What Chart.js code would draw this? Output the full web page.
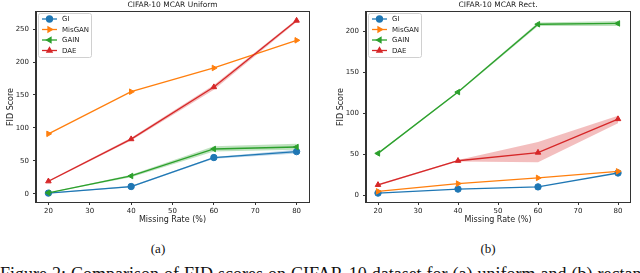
<!DOCTYPE html>
<html>
<head>
<meta charset="utf-8">
<script src="https://cdn.jsdelivr.net/npm/chart.js@4.4.1/dist/chart.umd.min.js"></script>
<style>
  html, body { margin: 0; padding: 0; background: #fff; }
  body { width: 640px; height: 273px; position: relative; overflow: hidden; }
  canvas { position: absolute; top: 0; }
  #c1 { left: 0; }
  #c2 { left: 320px; }
  .sub { position: absolute; top: 241px; width: 40px; line-height: 15px; text-align: center;
         font-family: 'Liberation Serif', serif; font-size: 13px; color: #111; }
  #fig { position: absolute; left: 0; top: 264px; width: 640px; line-height: 20px; white-space: nowrap;
         font-family: 'Liberation Serif', serif; font-size: 18px; word-spacing: 0.5px; color: #111; }
</style>
</head>
<body>
<canvas id="c1" width="320" height="230"></canvas>
<canvas id="c2" width="320" height="230"></canvas>
<div class="sub" style="left:138px">(a)</div>
<div class="sub" style="left:468px">(b)</div>
<div id="fig">Figure 2: Comparison of FID scores on CIFAR-10 dataset for (a) uniform and (b) rectangular</div>
<script>
// datos
const missingRates = [20, 40, 60, 80];
const xTicks = [20, 30, 40, 50, 60, 70, 80];
const uniformYTicks = [0, 50, 100, 150, 200, 250];
const rectYTicks = [0, 50, 100, 150, 200];
const methods = ['GI', 'MisGAN', 'GAIN', 'DAE'];

// MCAR uniform
const giUniform = [1, 11, 55, 64];
const misganUniform = [91, 155, 191, 233];
const gainUniform = [1.5, 27, 68, 71];
const daeUniform = [19, 83, 162, 263];
const giUniformLow = [0.5, 10, 53, 61];
const giUniformHigh = [1.5, 12, 56, 67];
const gainUniformLow = [1, 25, 64, 67];
const gainUniformHigh = [2, 29, 72, 76];
const daeUniformLow = [18, 81, 158, 261];
const daeUniformHigh = [20, 85, 165, 265];

// MCAR rect
const giRect = [2.4, 7.3, 10, 27];
const misganRect = [4.5, 14, 21, 29];
const gainRect = [51, 126, 209, 210];
const daeRect = [12.5, 42, 52, 93];
const gainRectLow = [50, 125, 207, 207];
const gainRectHigh = [52, 127, 211, 213];
const daeRectLow = [11.5, 41, 40, 88];
const daeRectHigh = [13.5, 43, 65, 97];

const colors = ['#1f77b4', '#ff7f0e', '#2ca02c', '#d62728'];
const bandColors = ['rgba(31,119,180,0.3)', 'rgba(255,127,14,0.3)', 'rgba(44,160,44,0.3)', 'rgba(214,39,40,0.3)'];
const markers = [['circle', 0], ['triangle', 90], ['triangle', -90], ['triangle', 0]];

function pts(vals) {
    return missingRates.map((x, i) => ({x: x, y: vals[i]}));
}

function lineSet(k, vals) {
    return {
        label: methods[k], data: pts(vals), borderColor: colors[k], backgroundColor: colors[k],
        borderWidth: 1.3, pointStyle: markers[k][0], rotation: markers[k][1],
        pointRadius: 3.2, pointBorderWidth: 1, fill: false, tension: 0, order: 4 - k
    };
}

function bandSets(k, low, high) {
    return [
        {label: '', data: pts(low), borderWidth: 0, pointRadius: 0, fill: false, order: 10},
        {label: '', data: pts(high), borderWidth: 0, pointRadius: 0, backgroundColor: bandColors[k], fill: '-1', order: 10}
    ];
}

const frame = {
    id: 'frame',
    afterDatasetsDraw(chart) {
        const {ctx, chartArea: a} = chart;
        ctx.save();
        ctx.strokeStyle = '#333';
        ctx.lineWidth = 1;
        ctx.strokeRect(Math.round(a.left) - 0.5, Math.round(a.top) - 0.5, Math.round(a.right - a.left) + 1, Math.round(a.bottom - a.top) + 1);
        ctx.restore();
    }
};

const topTitle = {
    id: 'topTitle',
    afterDraw(chart, args, opts) {
        const {ctx, chartArea: a} = chart;
        ctx.save();
        ctx.font = '7.5px "DejaVu Sans"';
        ctx.fillStyle = '#222';
        ctx.textAlign = 'center';
        ctx.textBaseline = 'alphabetic';
        ctx.fillText(opts.text, (a.left + a.right) / 2, 7);
        ctx.restore();
    }
};

const boxLegend = {
    id: 'boxLegend',
    afterDraw(chart) {
        const {ctx, chartArea: a} = chart;
        const x0 = a.left + 2, y0 = a.top + 1;
        ctx.save();
        ctx.fillStyle = 'rgba(255,255,255,0.85)';
        ctx.strokeStyle = '#d0d0d0';
        ctx.lineWidth = 1;
        ctx.beginPath();
        ctx.roundRect(x0 + 0.5, y0 + 0.5, 53, 44, 2);
        ctx.fill();
        ctx.stroke();
        ctx.font = '7px "DejaVu Sans"';
        ctx.textBaseline = 'middle';
        ctx.textAlign = 'left';
        chart.data.datasets.slice(0, 4).forEach((ds, i) => {
            const y = y0 + 6 + i * 10.5;
            ctx.strokeStyle = ds.borderColor;
            ctx.fillStyle = ds.borderColor;
            ctx.lineWidth = 1.3;
            ctx.beginPath();
            ctx.moveTo(x0 + 4, y);
            ctx.lineTo(x0 + 19, y);
            ctx.stroke();
            Chart.helpers.drawPoint(ctx, {pointStyle: ds.pointStyle, rotation: ds.rotation, radius: 3, borderWidth: 1}, x0 + 11.5, y);
            ctx.fillStyle = '#222';
            ctx.fillText(ds.label, x0 + 24, y + 0.5);
        });
        ctx.restore();
    }
};

function makeChart(id, title, lines, bands, yMin, yMax, yTicks, yWidth, titlePad, rightPad) {
    const font = {family: 'DejaVu Sans', size: 7};
    const labelFont = {family: 'DejaVu Sans', size: 8};
    return new Chart(document.getElementById(id), {
        type: 'line',
        data: {datasets: lines.concat(bands)},
        plugins: [frame, topTitle, boxLegend],
        options: {
            responsive: false,
            devicePixelRatio: 1,
            animation: false,
            events: [],
            layout: {padding: {top: 12, right: rightPad, left: 0, bottom: 0}},
            plugins: {
                legend: {display: false},
                tooltip: {enabled: false},
                topTitle: {text: title}
            },
            scales: {
                x: {
                    type: 'linear', min: 17, max: 83,
                    afterBuildTicks: s => { s.ticks = xTicks.map(v => ({value: v})); },
                    afterFit: s => { s.height = 28; },
                    ticks: {font: font, color: '#222', padding: 2, maxRotation: 0},
                    grid: {drawOnChartArea: false, drawTicks: true, tickLength: 3, color: '#333'},
                    border: {display: true, color: '#333'},
                    title: {display: true, text: 'Missing Rate (%)', font: labelFont, color: '#222', padding: {top: 0, bottom: 5}}
                },
                y: {
                    type: 'linear', min: yMin, max: yMax,
                    afterBuildTicks: s => { s.ticks = yTicks.map(v => ({value: v})); },
                    afterFit: s => { s.width = yWidth; },
                    ticks: {font: font, color: '#222', padding: 4},
                    grid: {drawOnChartArea: false, drawTicks: true, tickLength: 3, color: '#333'},
                    border: {display: true, color: '#333'},
                    title: {display: true, text: 'FID Score', font: labelFont, color: '#222', padding: {top: titlePad, bottom: 0}}
                }
            }
        }
    });
}

makeChart('c1', 'CIFAR-10 MCAR Uniform',
    [lineSet(0, giUniform), lineSet(1, misganUniform), lineSet(2, gainUniform), lineSet(3, daeUniform)],
    bandSets(0, giUniformLow, giUniformHigh).concat(bandSets(2, gainUniformLow, gainUniformHigh), bandSets(3, daeUniformLow, daeUniformHigh)),
    -12.5, 276, uniformYTicks, 36, 6, 11);

makeChart('c2', 'CIFAR-10 MCAR Rect.',
    [lineSet(0, giRect), lineSet(1, misganRect), lineSet(2, gainRect), lineSet(3, daeRect)],
    bandSets(2, gainRectLow, gainRectHigh).concat(bandSets(3, daeRectLow, daeRectHigh)),
    -8.5, 224, rectYTicks, 46, 16, 10);
</script>
</body>
</html>
